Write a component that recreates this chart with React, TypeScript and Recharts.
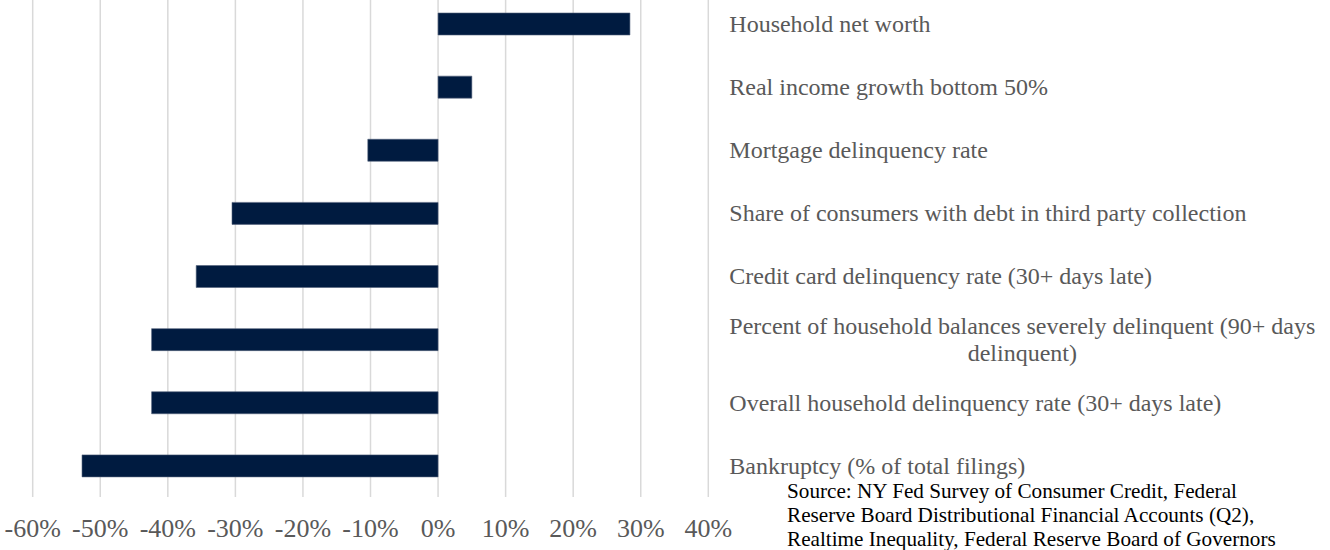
import React from 'react';
import { BarChart, Bar, XAxis, YAxis, CartesianGrid } from 'recharts';

const categories = [
  'Household net worth',
  'Real income growth bottom 50%',
  'Mortgage delinquency rate',
  'Share of consumers with debt in third party collection',
  'Credit card delinquency rate (30+ days late)',
  'Percent of household balances severely delinquent (90+ days delinquent)',
  'Overall household delinquency rate (30+ days late)',
  'Bankruptcy (% of total filings)',
];

const changes = [28.4, 5.0, -10.4, -30.5, -35.8, -42.4, -42.4, -52.7];

const xTicks = [-60, -50, -40, -30, -20, -10, 0, 10, 20, 30, 40];

const sourceLines = [
  'Source: NY Fed Survey of Consumer Credit, Federal',
  'Reserve Board Distributional Financial Accounts (Q2),',
  'Realtime Inequality, Federal Reserve Board of Governors',
];

const data = categories.map((name, i) => ({ name, value: changes[i] }));

const SERIF = '"Liberation Serif", "Times New Roman", serif';
const LABEL_FONT = `24px ${SERIF}`;

let ctx: CanvasRenderingContext2D | null = null;
const measure = (text: string) => {
  if (!ctx) ctx = document.createElement('canvas').getContext('2d');
  if (!ctx) return text.length * 10;
  ctx.font = LABEL_FONT;
  return ctx.measureText(text).width;
};

const wrap = (text: string, maxW: number) => {
  const words = text.split(' ');
  const lines: string[] = [];
  let cur = '';
  words.forEach((w) => {
    const next = cur ? cur + ' ' + w : w;
    if (cur && measure(next) > maxW) {
      lines.push(cur);
      cur = w;
    } else {
      cur = next;
    }
  });
  if (cur) lines.push(cur);
  return lines;
};

const CategoryTick = (props: any) => {
  const { x, y, payload } = props;
  const lines = wrap(payload.value, 595);
  const style = { fontFamily: SERIF, fontSize: 24, fill: '#595959' };
  if (lines.length === 1) {
    return (
      <text x={x} y={y} dy="0.35em" textAnchor="start" style={style}>
        {lines[0]}
      </text>
    );
  }
  const w = Math.max(...lines.map(measure));
  const cx = x + w / 2;
  const first = 8.5 - (27 * (lines.length - 1)) / 2;
  return (
    <text x={cx} y={y} textAnchor="middle" style={style}>
      {lines.map((l, i) => (
        <tspan key={i} x={cx} y={y + first + i * 27}>
          {l}
        </tspan>
      ))}
    </text>
  );
};

const App: React.FC = () => {
  return (
    <div style={{ position: 'absolute', left: 0, top: -8, width: 1330, height: 558 }}>
      <BarChart
        width={1330}
        height={558}
        data={data}
        layout="vertical"
        margin={{ top: 0, right: 0, bottom: 0, left: 32.7 }}
      >
        <CartesianGrid horizontal={false} stroke="#D9D9D9" strokeWidth={1.5} />
        <XAxis
          type="number"
          domain={[-60, 40]}
          ticks={xTicks}
          interval={0}
          allowDataOverflow
          tickFormatter={(v: number) => `${v}%`}
          axisLine={false}
          tickLine={false}
          tickSize={0}
          tickMargin={21.5}
          height={53}
          tick={{ fill: '#595959', fontSize: 26, fontFamily: SERIF }}
        />
        <YAxis
          type="category"
          dataKey="name"
          orientation="right"
          width={621.7}
          interval={0}
          axisLine={false}
          tickLine={false}
          tickSize={0}
          tickMargin={21}
          tick={<CategoryTick />}
        />
        <Bar
          dataKey="value"
          fill="#001B40"
          stroke="#52627A"
          strokeWidth={0.6}
          barSize={22}
          isAnimationActive={false}
        />
      </BarChart>
      <svg
        width={1330}
        height={558}
        style={{ position: 'absolute', left: 0, top: 0, pointerEvents: 'none' }}
      >
        {sourceLines.map((l, i) => (
          <text
            key={i}
            x={787}
            y={505.7 + i * 24}
            style={{ fontFamily: SERIF, fontSize: 21.2, fill: '#000000' }}
          >
            {l}
          </text>
        ))}
      </svg>
    </div>
  );
};

export default App;
